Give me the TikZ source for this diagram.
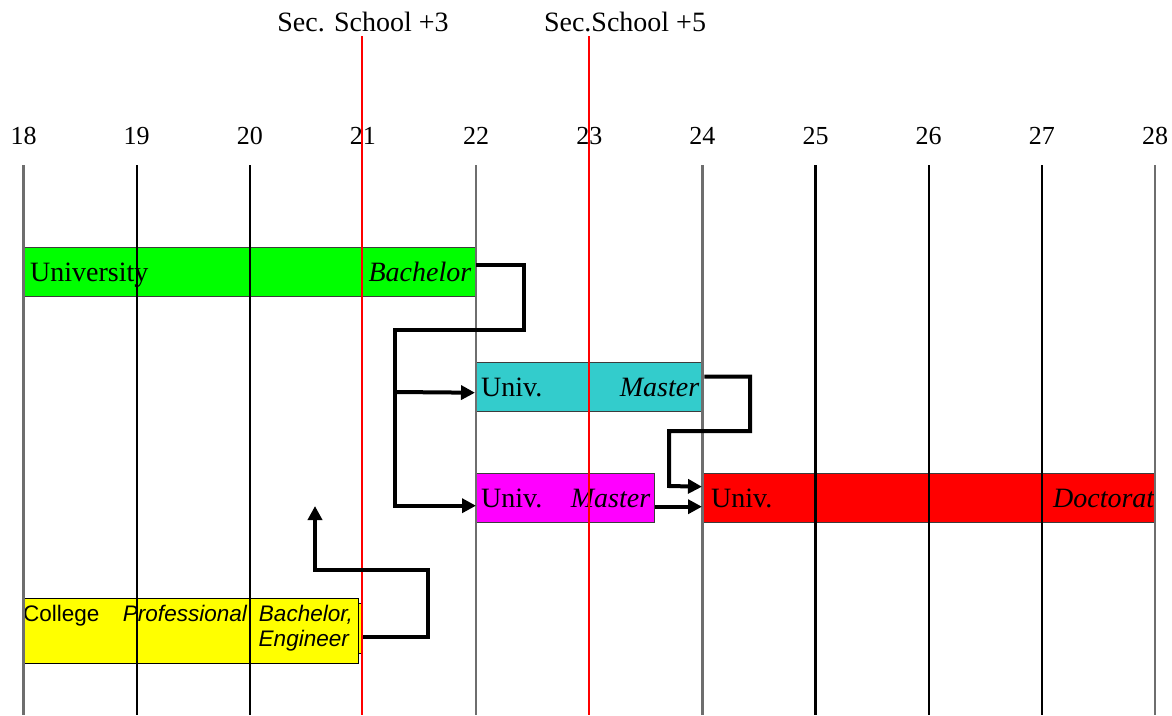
\documentclass[tikz,border=0pt]{standalone}
\usepackage{fontspec}
\setmainfont{Liberation Serif}
\newfontfamily\arialf{Liberation Sans}
\usetikzlibrary{arrows.meta}
\definecolor{cyanbar}{RGB}{51,204,204}
\definecolor{magbar}{RGB}{255,0,255}
\definecolor{greenbar}{RGB}{0,255,0}
\definecolor{redbar}{RGB}{255,0,0}
\definecolor{yellowbar}{RGB}{255,255,0}
\definecolor{gridgray}{RGB}{110,110,110}
\definecolor{barborder}{RGB}{60,60,60}
\begin{document}
\begin{tikzpicture}[x=1pt,y=-1pt,
  bar/.style={draw=barborder, line width=1.4pt, inner sep=0pt, anchor=north west, minimum height=49pt},
  serif/.style={font=\fontsize{28}{32}\selectfont, inner sep=0pt},
  digit/.style={font=\fontsize{26}{30}\selectfont, inner sep=0pt},
  sans/.style={font=\arialf\fontsize{22.5}{26}\selectfont, inner sep=0pt},
  gridline/.style={line width=2.2pt},
  redline/.style={draw=redbar, line width=1.5pt},
  conn/.style={line width=4pt, line join=miter},
  arrowc/.style={conn, -{Triangle[length=14pt,width=14pt]}}]
\useasboundingbox (0,0) rectangle (1172,715);
% bars
\node[bar, fill=greenbar, minimum width=451pt] (ubach) at (24,247) {};
\node[bar, fill=cyanbar, minimum width=228pt] (umast) at (475,362) {};
\node[bar, fill=magbar, minimum width=178pt] (umastb) at (476,473) {};
\node[bar, fill=redbar, minimum width=453pt] (udoc) at (702,473) {};
\node[bar, draw=black, fill=yellowbar, minimum width=340pt, minimum height=50pt] (ycback) at (22,603) {};
\node[bar, draw=black, fill=yellowbar, minimum width=336pt, minimum height=65pt] (ycoll) at (22,598) {};
% bar texts
\node[serif, anchor=base west] (t1) at ([xshift=6pt,yshift=-9.5pt]ubach.west) {University};
\node[serif, anchor=base east] (t2) at ([xshift=-5pt,yshift=-9.5pt]ubach.east) {\itshape Bachelor};
\node[serif, anchor=base west] (t3) at ([xshift=6pt,yshift=-9.5pt]umast.west) {Univ.};
\node[serif, anchor=base east] (t4) at ([xshift=-5pt,yshift=-9.5pt]umast.east) {\itshape Master};
\node[serif, anchor=base west] (t5) at ([xshift=5pt,yshift=-9.5pt]umastb.west) {Univ.};
\node[serif, anchor=base east] (t6) at ([xshift=-5pt,yshift=-9.5pt]umastb.east) {\itshape Master};
\node[serif, anchor=base west] (t7) at ([xshift=9pt,yshift=-9.5pt]udoc.west) {Univ.};
\node[serif, anchor=base east] (t8) at ([xshift=-2pt,yshift=-9.5pt]udoc.east) {\itshape Doctorat};
\node[sans, anchor=base west] (t9) at (23,621) {College};
\node[sans, anchor=base east] (t10) at (247,621) {\itshape Professional};
\node[sans, anchor=base east] (t10b) at (353,621) {\itshape Bachelor,};
\node[sans, anchor=base east] (t11) at (349,646) {\itshape Engineer};
% age axis
\foreach \a/\c in {18/gridgray,19/black,20/black,22/gridgray,24/gridgray,25/black,26/black,27/black,28/gridgray}{
  \pgfmathsetmacro{\xx}{23.5+113.15*(\a-18)}
  \node[digit] (age\a) at (\xx,136) {\a};
  \draw[gridline, draw=\c] (\xx,165) -- (\xx,715);
}
\foreach \a in {21,23}{
  \pgfmathsetmacro{\xx}{23.5+113.15*(\a-18)}
  \node[digit] (age\a) at (\xx,136) {\a};
}
% red reference lines
\node[serif] (sec3) at (363,22) {Sec. School +3};
\node[serif] (sec5) at (625,22) {Sec.School +5};
\coordinate (r3top) at (362,36);
\coordinate (r3bot) at (362,715);
\coordinate (r5top) at (589,36);
\coordinate (r5bot) at (589,715);
\draw[redline] (r3top) -- (r3bot);
\draw[redline] (r5top) -- (r5bot);
% connectors
\coordinate (jn) at (395,392);
\coordinate (ptip) at (315,506);
\draw[conn] ([yshift=7.5pt]ubach.east) -| (524,330) -| (jn);
\draw[arrowc] (jn) -- ([yshift=-5.5pt]umast.west);
\draw[arrowc] (jn) |- ([yshift=-7.5pt]umastb.west);
\draw[arrowc] ([yshift=10.5pt]umast.east) -| (750,431) -| (669,486) -- ([yshift=11.5pt]udoc.west);
\draw[arrowc] ([yshift=-8.5pt]umastb.east) -- ([yshift=-8.5pt]udoc.west);
\draw[arrowc] ([yshift=-8pt]ycback.east) -| (428,570) -| (ptip);
\end{tikzpicture}
\end{document}
